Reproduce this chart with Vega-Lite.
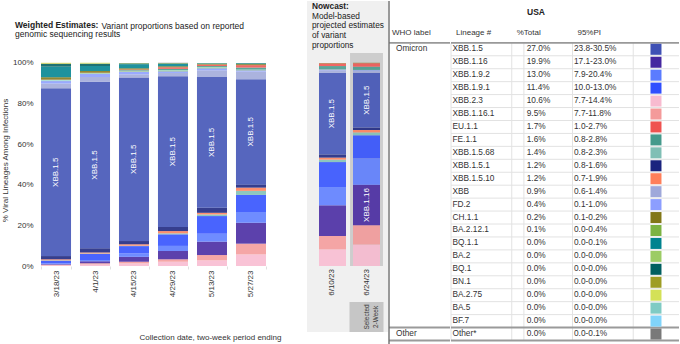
{
  "$schema": "https://vega.github.io/schema/vega-lite/v6.json",
  "padding": {"left": 1, "top": 0, "right": 0, "bottom": 0},
  "background": "white",
  "spacing": 1,
  "bounds": "flush",
  "config": {
    "font": "Liberation Sans",
    "view": {"stroke": null},
    "title": {"font": "Liberation Sans", "subtitleFont": "Liberation Sans"}
  },
  "datasets": {
    "lins": [
      {"lineage": "XBB.1.5", "who": "Omicron", "total": "27.0%", "pi": "23.8-30.5%"},
      {"lineage": "XBB.1.16", "who": "", "total": "19.9%", "pi": "17.1-23.0%"},
      {"lineage": "XBB.1.9.2", "who": "", "total": "13.0%", "pi": "7.9-20.4%"},
      {"lineage": "XBB.1.9.1", "who": "", "total": "11.4%", "pi": "10.0-13.0%"},
      {"lineage": "XBB.2.3", "who": "", "total": "10.6%", "pi": "7.7-14.4%"},
      {"lineage": "XBB.1.16.1", "who": "", "total": "9.5%", "pi": "7.7-11.8%"},
      {"lineage": "EU.1.1", "who": "", "total": "1.7%", "pi": "1.0-2.7%"},
      {"lineage": "FE.1.1", "who": "", "total": "1.6%", "pi": "0.8-2.8%"},
      {"lineage": "XBB.1.5.68", "who": "", "total": "1.4%", "pi": "0.8-2.3%"},
      {"lineage": "XBB.1.5.1", "who": "", "total": "1.2%", "pi": "0.8-1.6%"},
      {"lineage": "XBB.1.5.10", "who": "", "total": "1.2%", "pi": "0.7-1.9%"},
      {"lineage": "XBB", "who": "", "total": "0.9%", "pi": "0.6-1.4%"},
      {"lineage": "FD.2", "who": "", "total": "0.4%", "pi": "0.1-1.0%"},
      {"lineage": "CH.1.1", "who": "", "total": "0.2%", "pi": "0.1-0.2%"},
      {"lineage": "BA.2.12.1", "who": "", "total": "0.1%", "pi": "0.0-0.4%"},
      {"lineage": "BQ.1.1", "who": "", "total": "0.0%", "pi": "0.0-0.1%"},
      {"lineage": "BA.2", "who": "", "total": "0.0%", "pi": "0.0-0.0%"},
      {"lineage": "BQ.1", "who": "", "total": "0.0%", "pi": "0.0-0.0%"},
      {"lineage": "BN.1", "who": "", "total": "0.0%", "pi": "0.0-0.0%"},
      {"lineage": "BA.2.75", "who": "", "total": "0.0%", "pi": "0.0-0.0%"},
      {"lineage": "BA.5", "who": "", "total": "0.0%", "pi": "0.0-0.0%"},
      {"lineage": "BF.7", "who": "", "total": "0.0%", "pi": "0.0-0.0%"},
      {"lineage": "Other*", "who": "Other", "total": "0.0%", "pi": "0.0-0.1%"}
    ],
    "bars": [
      {"date": "3/18/23", "lineage": "XBB.2.3", "share": 0.3, "stk": 0},
      {"date": "3/18/23", "lineage": "XBB.1.16.1", "share": 0.3, "stk": 1},
      {"date": "3/18/23", "lineage": "XBB.1.16", "share": 0.3, "stk": 2},
      {"date": "3/18/23", "lineage": "XBB.1.9.2", "share": 0.4, "stk": 3},
      {"date": "3/18/23", "lineage": "XBB.1.9.1", "share": 1.3, "stk": 4},
      {"date": "3/18/23", "lineage": "XBB.1.5.68", "share": 0.2, "stk": 5},
      {"date": "3/18/23", "lineage": "XBB.1.5.10", "share": 0.5, "stk": 6},
      {"date": "3/18/23", "lineage": "XBB.1.5.1", "share": 1.6, "stk": 7},
      {"date": "3/18/23", "lineage": "XBB.1.5", "share": 82.6, "stk": 8},
      {"date": "3/18/23", "lineage": "XBB", "share": 2.4, "stk": 9},
      {"date": "3/18/23", "lineage": "FD.2", "share": 1.2, "stk": 10},
      {"date": "3/18/23", "lineage": "BA.2.12.1", "share": 0.1, "stk": 11},
      {"date": "3/18/23", "lineage": "BA.2", "share": 0.1, "stk": 12},
      {"date": "3/18/23", "lineage": "BF.7", "share": 0.2, "stk": 13},
      {"date": "3/18/23", "lineage": "BA.5", "share": 0.2, "stk": 14},
      {"date": "3/18/23", "lineage": "EU.1.1", "share": 0.1, "stk": 16},
      {"date": "3/18/23", "lineage": "CH.1.1", "share": 1.2, "stk": 17},
      {"date": "3/18/23", "lineage": "BQ.1.1", "share": 5.2, "stk": 18},
      {"date": "3/18/23", "lineage": "BQ.1", "share": 1.3, "stk": 19},
      {"date": "3/18/23", "lineage": "BN.1", "share": 0.3, "stk": 20},
      {"date": "3/18/23", "lineage": "BA.2.75", "share": 0.3, "stk": 21},

      {"date": "4/1/23", "lineage": "XBB.2.3", "share": 0.7, "stk": 0},
      {"date": "4/1/23", "lineage": "XBB.1.16.1", "share": 0.6, "stk": 1},
      {"date": "4/1/23", "lineage": "XBB.1.16", "share": 1.0, "stk": 2},
      {"date": "4/1/23", "lineage": "XBB.1.9.2", "share": 0.6, "stk": 3},
      {"date": "4/1/23", "lineage": "XBB.1.9.1", "share": 3.0, "stk": 4},
      {"date": "4/1/23", "lineage": "XBB.1.5.68", "share": 0.2, "stk": 5},
      {"date": "4/1/23", "lineage": "XBB.1.5.10", "share": 0.5, "stk": 6},
      {"date": "4/1/23", "lineage": "XBB.1.5.1", "share": 2.1, "stk": 7},
      {"date": "4/1/23", "lineage": "XBB.1.5", "share": 82.1, "stk": 8},
      {"date": "4/1/23", "lineage": "XBB", "share": 2.3, "stk": 9},
      {"date": "4/1/23", "lineage": "FD.2", "share": 1.6, "stk": 10},
      {"date": "4/1/23", "lineage": "BA.2.12.1", "share": 0.1, "stk": 11},
      {"date": "4/1/23", "lineage": "BA.2", "share": 0.1, "stk": 12},
      {"date": "4/1/23", "lineage": "BF.7", "share": 0.1, "stk": 13},
      {"date": "4/1/23", "lineage": "BA.5", "share": 0.1, "stk": 14},
      {"date": "4/1/23", "lineage": "EU.1.1", "share": 0.1, "stk": 16},
      {"date": "4/1/23", "lineage": "CH.1.1", "share": 0.8, "stk": 17},
      {"date": "4/1/23", "lineage": "BQ.1.1", "share": 2.5, "stk": 18},
      {"date": "4/1/23", "lineage": "BQ.1", "share": 1.1, "stk": 19},
      {"date": "4/1/23", "lineage": "BN.1", "share": 0.2, "stk": 20},
      {"date": "4/1/23", "lineage": "BA.2.75", "share": 0.3, "stk": 21},

      {"date": "4/15/23", "lineage": "XBB.2.3", "share": 1.3, "stk": 0},
      {"date": "4/15/23", "lineage": "XBB.1.16.1", "share": 0.8, "stk": 1},
      {"date": "4/15/23", "lineage": "XBB.1.16", "share": 2.4, "stk": 2},
      {"date": "4/15/23", "lineage": "XBB.1.9.2", "share": 1.7, "stk": 3},
      {"date": "4/15/23", "lineage": "XBB.1.9.1", "share": 3.6, "stk": 4},
      {"date": "4/15/23", "lineage": "XBB.1.5.68", "share": 0.2, "stk": 5},
      {"date": "4/15/23", "lineage": "XBB.1.5.10", "share": 0.7, "stk": 6},
      {"date": "4/15/23", "lineage": "XBB.1.5.1", "share": 1.6, "stk": 7},
      {"date": "4/15/23", "lineage": "XBB.1.5", "share": 80.5, "stk": 8},
      {"date": "4/15/23", "lineage": "XBB", "share": 1.6, "stk": 9},
      {"date": "4/15/23", "lineage": "FD.2", "share": 1.3, "stk": 10},
      {"date": "4/15/23", "lineage": "BA.2.12.1", "share": 0.2, "stk": 11},
      {"date": "4/15/23", "lineage": "BA.2", "share": 0.1, "stk": 12},
      {"date": "4/15/23", "lineage": "BF.7", "share": 0.1, "stk": 13},
      {"date": "4/15/23", "lineage": "BA.5", "share": 0.1, "stk": 14},
      {"date": "4/15/23", "lineage": "FE.1.1", "share": 0.3, "stk": 15},
      {"date": "4/15/23", "lineage": "EU.1.1", "share": 0.3, "stk": 16},
      {"date": "4/15/23", "lineage": "CH.1.1", "share": 0.6, "stk": 17},
      {"date": "4/15/23", "lineage": "BQ.1.1", "share": 2.0, "stk": 18},
      {"date": "4/15/23", "lineage": "BQ.1", "share": 0.4, "stk": 19},
      {"date": "4/15/23", "lineage": "BN.1", "share": 0.1, "stk": 20},
      {"date": "4/15/23", "lineage": "BA.2.75", "share": 0.1, "stk": 21},

      {"date": "4/29/23", "lineage": "XBB.2.3", "share": 2.1, "stk": 0},
      {"date": "4/29/23", "lineage": "XBB.1.16.1", "share": 1.2, "stk": 1},
      {"date": "4/29/23", "lineage": "XBB.1.16", "share": 4.1, "stk": 2},
      {"date": "4/29/23", "lineage": "XBB.1.9.2", "share": 2.5, "stk": 3},
      {"date": "4/29/23", "lineage": "XBB.1.9.1", "share": 5.7, "stk": 4},
      {"date": "4/29/23", "lineage": "XBB.1.5.68", "share": 0.5, "stk": 5},
      {"date": "4/29/23", "lineage": "XBB.1.5.10", "share": 1.1, "stk": 6},
      {"date": "4/29/23", "lineage": "XBB.1.5.1", "share": 2.0, "stk": 7},
      {"date": "4/29/23", "lineage": "XBB.1.5", "share": 74.3, "stk": 8},
      {"date": "4/29/23", "lineage": "XBB", "share": 1.6, "stk": 9},
      {"date": "4/29/23", "lineage": "FD.2", "share": 0.8, "stk": 10},
      {"date": "4/29/23", "lineage": "BA.2.12.1", "share": 0.3, "stk": 11},
      {"date": "4/29/23", "lineage": "BA.2", "share": 0.1, "stk": 12},
      {"date": "4/29/23", "lineage": "BF.7", "share": 0.1, "stk": 13},
      {"date": "4/29/23", "lineage": "BA.5", "share": 0.1, "stk": 14},
      {"date": "4/29/23", "lineage": "FE.1.1", "share": 0.6, "stk": 15},
      {"date": "4/29/23", "lineage": "EU.1.1", "share": 0.8, "stk": 16},
      {"date": "4/29/23", "lineage": "CH.1.1", "share": 0.5, "stk": 17},
      {"date": "4/29/23", "lineage": "BQ.1.1", "share": 1.1, "stk": 18},
      {"date": "4/29/23", "lineage": "BQ.1", "share": 0.3, "stk": 19},
      {"date": "4/29/23", "lineage": "BN.1", "share": 0.1, "stk": 20},
      {"date": "4/29/23", "lineage": "BA.2.75", "share": 0.1, "stk": 21},
      {"date": "4/29/23", "lineage": "Other*", "share": 0.1, "stk": 22},

      {"date": "5/13/23", "lineage": "XBB.2.3", "share": 2.8, "stk": 0},
      {"date": "5/13/23", "lineage": "XBB.1.16.1", "share": 2.6, "stk": 1},
      {"date": "5/13/23", "lineage": "XBB.1.16", "share": 6.6, "stk": 2},
      {"date": "5/13/23", "lineage": "XBB.1.9.2", "share": 3.9, "stk": 3},
      {"date": "5/13/23", "lineage": "XBB.1.9.1", "share": 8.7, "stk": 4},
      {"date": "5/13/23", "lineage": "XBB.1.5.68", "share": 0.8, "stk": 5},
      {"date": "5/13/23", "lineage": "XBB.1.5.10", "share": 0.8, "stk": 6},
      {"date": "5/13/23", "lineage": "XBB.1.5.1", "share": 2.5, "stk": 7},
      {"date": "5/13/23", "lineage": "XBB.1.5", "share": 64.4, "stk": 8},
      {"date": "5/13/23", "lineage": "XBB", "share": 3.3, "stk": 9},
      {"date": "5/13/23", "lineage": "FD.2", "share": 1.0, "stk": 10},
      {"date": "5/13/23", "lineage": "BA.2.12.1", "share": 0.3, "stk": 11},
      {"date": "5/13/23", "lineage": "BA.2", "share": 0.1, "stk": 12},
      {"date": "5/13/23", "lineage": "BF.7", "share": 0.1, "stk": 13},
      {"date": "5/13/23", "lineage": "BA.5", "share": 0.1, "stk": 14},
      {"date": "5/13/23", "lineage": "FE.1.1", "share": 0.5, "stk": 15},
      {"date": "5/13/23", "lineage": "EU.1.1", "share": 0.7, "stk": 16},
      {"date": "5/13/23", "lineage": "CH.1.1", "share": 0.3, "stk": 17},
      {"date": "5/13/23", "lineage": "BQ.1.1", "share": 0.3, "stk": 18},
      {"date": "5/13/23", "lineage": "BQ.1", "share": 0.1, "stk": 19},
      {"date": "5/13/23", "lineage": "BN.1", "share": 0.05, "stk": 20},
      {"date": "5/13/23", "lineage": "BA.2.75", "share": 0.05, "stk": 21},

      {"date": "5/27/23", "lineage": "XBB.2.3", "share": 5.7, "stk": 0},
      {"date": "5/27/23", "lineage": "XBB.1.16.1", "share": 5.3, "stk": 1},
      {"date": "5/27/23", "lineage": "XBB.1.16", "share": 10.3, "stk": 2},
      {"date": "5/27/23", "lineage": "XBB.1.9.2", "share": 5.3, "stk": 3},
      {"date": "5/27/23", "lineage": "XBB.1.9.1", "share": 8.4, "stk": 4},
      {"date": "5/27/23", "lineage": "XBB.1.5.68", "share": 2.0, "stk": 5},
      {"date": "5/27/23", "lineage": "XBB.1.5.10", "share": 1.6, "stk": 6},
      {"date": "5/27/23", "lineage": "XBB.1.5.1", "share": 1.6, "stk": 7},
      {"date": "5/27/23", "lineage": "XBB.1.5", "share": 51.8, "stk": 8},
      {"date": "5/27/23", "lineage": "XBB", "share": 3.8, "stk": 9},
      {"date": "5/27/23", "lineage": "FD.2", "share": 0.6, "stk": 10},
      {"date": "5/27/23", "lineage": "BA.2.12.1", "share": 0.2, "stk": 11},
      {"date": "5/27/23", "lineage": "BA.2", "share": 0.05, "stk": 12},
      {"date": "5/27/23", "lineage": "BF.7", "share": 0.05, "stk": 13},
      {"date": "5/27/23", "lineage": "BA.5", "share": 0.05, "stk": 14},
      {"date": "5/27/23", "lineage": "FE.1.1", "share": 1.0, "stk": 15},
      {"date": "5/27/23", "lineage": "EU.1.1", "share": 1.2, "stk": 16},
      {"date": "5/27/23", "lineage": "CH.1.1", "share": 0.5, "stk": 17},
      {"date": "5/27/23", "lineage": "BQ.1.1", "share": 0.4, "stk": 18},
      {"date": "5/27/23", "lineage": "BQ.1", "share": 0.1, "stk": 19},
      {"date": "5/27/23", "lineage": "BN.1", "share": 0.05, "stk": 20},

      {"date": "6/10/23", "lineage": "XBB.2.3", "share": 8.2, "stk": 0},
      {"date": "6/10/23", "lineage": "XBB.1.16.1", "share": 6.6, "stk": 1},
      {"date": "6/10/23", "lineage": "XBB.1.16", "share": 15.1, "stk": 2},
      {"date": "6/10/23", "lineage": "XBB.1.9.2", "share": 9.0, "stk": 3},
      {"date": "6/10/23", "lineage": "XBB.1.9.1", "share": 12.3, "stk": 4},
      {"date": "6/10/23", "lineage": "XBB.1.5.68", "share": 1.2, "stk": 5},
      {"date": "6/10/23", "lineage": "XBB.1.5.10", "share": 1.0, "stk": 6},
      {"date": "6/10/23", "lineage": "XBB.1.5.1", "share": 1.6, "stk": 7},
      {"date": "6/10/23", "lineage": "XBB.1.5", "share": 40.1, "stk": 8},
      {"date": "6/10/23", "lineage": "XBB", "share": 1.3, "stk": 9},
      {"date": "6/10/23", "lineage": "FD.2", "share": 0.4, "stk": 10},
      {"date": "6/10/23", "lineage": "BA.2.12.1", "share": 0.1, "stk": 11},
      {"date": "6/10/23", "lineage": "FE.1.1", "share": 1.6, "stk": 15},
      {"date": "6/10/23", "lineage": "EU.1.1", "share": 1.3, "stk": 16},
      {"date": "6/10/23", "lineage": "CH.1.1", "share": 0.2, "stk": 17},

      {"date": "6/24/23", "lineage": "XBB.2.3", "share": 10.6, "stk": 0},
      {"date": "6/24/23", "lineage": "XBB.1.16.1", "share": 9.5, "stk": 1},
      {"date": "6/24/23", "lineage": "XBB.1.16", "share": 19.9, "stk": 2},
      {"date": "6/24/23", "lineage": "XBB.1.9.2", "share": 13.0, "stk": 3},
      {"date": "6/24/23", "lineage": "XBB.1.9.1", "share": 11.4, "stk": 4},
      {"date": "6/24/23", "lineage": "XBB.1.5.68", "share": 1.4, "stk": 5},
      {"date": "6/24/23", "lineage": "XBB.1.5.10", "share": 1.2, "stk": 6},
      {"date": "6/24/23", "lineage": "XBB.1.5.1", "share": 1.2, "stk": 7},
      {"date": "6/24/23", "lineage": "XBB.1.5", "share": 27.0, "stk": 8},
      {"date": "6/24/23", "lineage": "XBB", "share": 0.9, "stk": 9},
      {"date": "6/24/23", "lineage": "FD.2", "share": 0.4, "stk": 10},
      {"date": "6/24/23", "lineage": "BA.2.12.1", "share": 0.1, "stk": 11},
      {"date": "6/24/23", "lineage": "FE.1.1", "share": 1.6, "stk": 15},
      {"date": "6/24/23", "lineage": "EU.1.1", "share": 1.7, "stk": 16},
      {"date": "6/24/23", "lineage": "CH.1.1", "share": 0.2, "stk": 17}
    ]
  },
  "hconcat": [
    {
      "width": 270,
      "height": 265,
      "title": {
        "text": "Weighted Estimates:",
        "subtitle": "genomic sequencing results",
        "anchor": "start", "frame": "group", "dx": -21, "offset": -37,
        "fontSize": 8.5, "fontWeight": "bold", "color": "#222",
        "subtitleFontSize": 8.5, "subtitleColor": "#222", "subtitlePadding": 0.5
      },
      "resolve": {"axis": {"x": "independent"}},
      "layer": [
        {
          "data": {"name": "bars"},
          "transform": [
            {"filter": {"field": "date", "oneOf": ["3/18/23", "4/1/23", "4/15/23", "4/29/23", "5/13/23", "5/27/23"]}}
          ],
          "mark": {"type": "bar", "fillOpacity": 0.88},
          "encoding": {
            "x": {"field": "date", "type": "nominal", "sort": null,
              "scale": {"domain": ["3/18/23", "4/1/23", "4/15/23", "4/29/23", "5/13/23", "5/27/23"], "paddingInner": 0.23, "paddingOuter": 0.577, "align": 0.111},
              "axis": {"title": "Collection date, two-week period ending", "titleFontSize": 8, "titleFontWeight": "normal", "titleColor": "#333", "titleX": 174, "titleY": 71, "titleBaseline": "middle",
                "labelAngle": 270, "labelAlign": "right", "labelBaseline": "middle", "labelFontSize": 8, "labelColor": "#333", "labelPadding": 1,
                "tickBand": "extent", "tickSize": 3, "tickColor": "#e0e0e0", "domain": false}},
            "y": {"field": "share", "type": "quantitative", "stack": "zero",
              "scale": {"domain": [0, 130.54], "nice": false},
              "axis": {"values": [0, 20, 40, 60, 80, 100], "labelExpr": "datum.value + '%'", "title": "% Viral Lineages Among Infections",
                "titleFontSize": 8, "titleFontWeight": "normal", "titleColor": "#333", "titlePadding": 3, "titleY": 159,
                "labelFontSize": 8, "labelColor": "#333", "labelPadding": 3, "ticks": false, "domain": false, "grid": false}},
            "color": {"field": "lineage", "type": "nominal", "legend": null,
              "scale": {"domain": ["XBB.1.5","XBB.1.16","XBB.1.9.2","XBB.1.9.1","XBB.2.3","XBB.1.16.1","EU.1.1","FE.1.1","XBB.1.5.68","XBB.1.5.1","XBB.1.5.10","XBB","FD.2","CH.1.1","BA.2.12.1","BQ.1.1","BA.2","BQ.1","BN.1","BA.2.75","BA.5","BF.7","Other*"],
                "range": ["#3f51b5","#4527a0","#5b7cff","#304ffe","#f8bbd0","#f49a9a","#ef5350","#459a8c","#80bfb5","#1a237e","#ff7f5a","#9fa8da","#8c9eff","#827717","#7cb342","#00838f","#9ccc65","#005f60","#9e9d24","#d4e157","#80cbc4","#81d4fa","#797979"]}},
            "order": {"field": "stk", "type": "quantitative", "sort": "ascending"}
          }
        },
        {
          "data": {"name": "bars"},
          "transform": [
            {"filter": {"field": "date", "oneOf": ["3/18/23", "4/1/23", "4/15/23", "4/29/23", "5/13/23", "5/27/23"]}},
            {"stack": "share", "groupby": ["date"], "sort": [{"field": "stk", "order": "ascending"}], "as": ["s0", "s1"]},
            {"filter": {"field": "lineage", "equal": "XBB.1.5"}},
            {"fold": ["s0", "s1"], "as": ["edge", "pos"]},
            {"aggregate": [{"op": "mean", "field": "pos", "as": "mid"}], "groupby": ["date", "lineage"]}
          ],
          "mark": {"type": "text", "angle": 270, "color": "white", "fontSize": 8, "align": "center", "baseline": "middle"},
          "encoding": {
            "x": {"field": "date", "type": "nominal", "sort": null,
              "axis": {"orient": "top", "labels": false, "ticks": false, "domain": false, "grid": false,
                "title": "Variant proportions based on reported", "titleX": 65, "titleY": 24, "titleAlign": "left", "titleBaseline": "middle", "titleAngle": 0,
                "titleFontSize": 8.5, "titleFontWeight": "normal", "titleColor": "#222"}},
            "y": {"field": "mid", "type": "quantitative", "scale": {"domain": [0, 130.54], "nice": false},
              "axis": {"values": [0, 20, 40, 60, 80, 100], "labelExpr": "datum.value + '%'", "title": "% Viral Lineages Among Infections",
                "titleFontSize": 8, "titleFontWeight": "normal", "titleColor": "#333", "titlePadding": 3, "titleY": 159,
                "labelFontSize": 8, "labelColor": "#333", "labelPadding": 3, "ticks": false, "domain": false, "grid": false}},
            "text": {"field": "lineage"}
          }
        }
      ]
    },
    {
      "width": 81,
      "height": 331,
      "view": {"fill": "#f0f0f0", "stroke": null},
      "title": {
        "text": "Nowcast:",
        "subtitle": ["Model-based", "projected estimates", "of variant", "proportions"],
        "anchor": "start", "frame": "group", "dx": 5, "offset": -48,
        "fontSize": 8.3, "fontWeight": "bold", "color": "#222",
        "subtitleFontSize": 8.3, "subtitleColor": "#222", "subtitlePadding": 1.4, "subtitleLineHeight": 9.6
      },
      "layer": [
        {
          "data": {"values": [{"date": "6/24/23"}]},
          "mark": {"type": "bar", "color": "#cdcdcd", "width": {"band": 1.22}},
          "encoding": {
            "x": {"field": "date", "type": "nominal", "scale": {"domain": ["6/10/23", "6/24/23"], "paddingInner": 0.206, "paddingOuter": 0.294, "align": 0.6}, "axis": null},
            "y": {"datum": 0, "type": "quantitative", "scale": {"domain": [-32.5, 130.54], "nice": false, "zero": false}, "axis": null},
            "y2": {"datum": 104.9}
          }
        },
        {
          "data": {"values": [{"date": "6/24/23"}]},
          "mark": {"type": "bar", "color": "#c6c6c6", "width": {"band": 1.26}},
          "encoding": {
            "x": {"field": "date", "type": "nominal"},
            "y": {"datum": -17.7, "type": "quantitative"},
            "y2": {"datum": -32.5}
          }
        },
        {
          "data": {"name": "bars"},
          "transform": [
            {"filter": {"field": "date", "oneOf": ["6/10/23", "6/24/23"]}}
          ],
          "mark": {"type": "bar", "fillOpacity": 0.88},
          "encoding": {
            "x": {"field": "date", "type": "nominal", "sort": null},
            "y": {"field": "share", "type": "quantitative", "stack": "zero"},
            "color": {"field": "lineage", "type": "nominal", "legend": null,
              "scale": {"domain": ["XBB.1.5","XBB.1.16","XBB.1.9.2","XBB.1.9.1","XBB.2.3","XBB.1.16.1","EU.1.1","FE.1.1","XBB.1.5.68","XBB.1.5.1","XBB.1.5.10","XBB","FD.2","CH.1.1","BA.2.12.1","BQ.1.1","BA.2","BQ.1","BN.1","BA.2.75","BA.5","BF.7","Other*"],
                "range": ["#3f51b5","#4527a0","#5b7cff","#304ffe","#f8bbd0","#f49a9a","#ef5350","#459a8c","#80bfb5","#1a237e","#ff7f5a","#9fa8da","#8c9eff","#827717","#7cb342","#00838f","#9ccc65","#005f60","#9e9d24","#d4e157","#80cbc4","#81d4fa","#797979"]}},
            "order": {"field": "stk", "type": "quantitative", "sort": "ascending"}
          }
        },
        {
          "data": {"name": "bars"},
          "transform": [
            {"filter": {"field": "date", "oneOf": ["6/10/23", "6/24/23"]}},
            {"stack": "share", "groupby": ["date"], "sort": [{"field": "stk", "order": "ascending"}], "as": ["s0", "s1"]},
            {"filter": "datum.lineage === 'XBB.1.5' || (datum.lineage === 'XBB.1.16' && datum.date === '6/24/23')"},
            {"fold": ["s0", "s1"], "as": ["edge", "pos"]},
            {"aggregate": [{"op": "mean", "field": "pos", "as": "mid"}], "groupby": ["date", "lineage"]}
          ],
          "mark": {"type": "text", "angle": 270, "color": "white", "fontSize": 8, "align": "center", "baseline": "middle"},
          "encoding": {
            "x": {"field": "date", "type": "nominal", "sort": null},
            "y": {"field": "mid", "type": "quantitative"},
            "text": {"field": "lineage"}
          }
        },
        {
          "data": {"values": [{"date": "6/10/23"}, {"date": "6/24/23"}]},
          "mark": {"type": "text", "angle": 270, "color": "#333", "fontSize": 8, "align": "right", "baseline": "middle"},
          "encoding": {
            "x": {"field": "date", "type": "nominal"},
            "y": {"datum": -1.5, "type": "quantitative"},
            "text": {"field": "date"}
          }
        },
        {
          "data": {"values": [{"date": "6/24/23", "label": ["Selected", "2-Week"]}]},
          "mark": {"type": "text", "angle": 270, "color": "#333", "fontSize": 6.5, "lineHeight": 9.5, "align": "center", "baseline": "middle"},
          "encoding": {
            "x": {"field": "date", "type": "nominal"},
            "y": {"datum": -25.1, "type": "quantitative"},
            "text": {"field": "label"}
          }
        }
      ]
    },
    {
      "width": 61,
      "height": 344,
      "layer": [
        {
          "data": {"values": [{"row": "XBB.1.5"}]},
          "mark": {"type": "rule", "color": "#999999", "strokeWidth": 1.6},
          "encoding": {
            "y": {"field": "row", "type": "nominal", "bandPosition": 0,
              "scale": {"type": "band", "domain": ["t1","t2","hdr","XBB.1.5","XBB.1.16","XBB.1.9.2","XBB.1.9.1","XBB.2.3","XBB.1.16.1","EU.1.1","FE.1.1","XBB.1.5.68","XBB.1.5.1","XBB.1.5.10","XBB","FD.2","CH.1.1","BA.2.12.1","BQ.1.1","BA.2","BQ.1","BN.1","BA.2.75","BA.5","BF.7","Other*"], "paddingInner": 0, "paddingOuter": 0.29, "align": 0.4},
              "axis": null}
          }
        },
        {
          "data": {"values": [{"row": "Other*"}]},
          "mark": {"type": "rule", "color": "#9a9a9a", "strokeWidth": 2},
          "encoding": {
            "y": {"field": "row", "type": "nominal", "bandPosition": 0}
          }
        },
        {
          "data": {"values": [{"row": "Other*"}]},
          "mark": {"type": "rule", "color": "#9a9a9a", "strokeWidth": 2},
          "encoding": {
            "y": {"field": "row", "type": "nominal", "bandPosition": 1}
          }
        },
        {
          "data": {"values": [{"col": "WHO"}]},
          "mark": {"type": "rule", "color": "#6e6e6e", "strokeWidth": 1.4},
          "encoding": {
            "x": {"field": "col", "type": "nominal", "bandPosition": 0, "scale": {"type": "band", "domain": ["WHO"], "paddingInner": 0, "paddingOuter": 0}, "axis": null}
          }
        },
        {
          "data": {"values": [{"col": "WHO", "row": "hdr", "label": "WHO label"}]},
          "mark": {"type": "text", "color": "#333", "fontSize": 8, "align": "left", "baseline": "middle", "dx": 3},
          "encoding": {
            "x": {"field": "col", "type": "nominal", "bandPosition": 0},
            "y": {"field": "row", "type": "nominal", "bandPosition": 0.22},
            "text": {"field": "label"}
          }
        },
        {
          "data": {"name": "lins"},
          "transform": [{"filter": "datum.who !== ''"}],
          "mark": {"type": "text", "color": "#333", "fontSize": 8.3, "align": "left", "baseline": "middle", "dx": 7},
          "encoding": {
            "x": {"datum": "WHO", "type": "nominal", "bandPosition": 0},
            "y": {"field": "lineage", "type": "nominal", "bandPosition": 0.5},
            "text": {"field": "who"}
          }
        }
      ]
    },
    {
      "width": 228,
      "height": 344,
      "title": {"text": "USA", "anchor": "middle", "frame": "group", "dx": -29, "offset": -15.5, "fontSize": 8.5, "fontWeight": "bold", "color": "#222"},
      "layer": [
        {
          "data": {"name": "lins"},
          "transform": [{"filter": {"not": {"field": "lineage", "oneOf": ["BF.7", "Other*"]}}}],
          "mark": {"type": "rule", "color": "#e2e2e2", "strokeWidth": 1},
          "encoding": {
            "y": {"field": "lineage", "type": "nominal", "bandPosition": 1,
              "scale": {"type": "band", "domain": ["t1","t2","hdr","XBB.1.5","XBB.1.16","XBB.1.9.2","XBB.1.9.1","XBB.2.3","XBB.1.16.1","EU.1.1","FE.1.1","XBB.1.5.68","XBB.1.5.1","XBB.1.5.10","XBB","FD.2","CH.1.1","BA.2.12.1","BQ.1.1","BA.2","BQ.1","BN.1","BA.2.75","BA.5","BF.7","Other*"], "paddingInner": 0, "paddingOuter": 0.29, "align": 0.4},
              "axis": null}
          }
        },
        {
          "data": {"values": [{"col": "Lineage", "top": "XBB.1.5", "bot": "Other*"}, {"col": "Total", "top": "XBB.1.5", "bot": "Other*"}, {"col": "PI", "top": "XBB.1.5", "bot": "Other*"}]},
          "mark": {"type": "rule", "color": "#e2e2e2", "strokeWidth": 1},
          "encoding": {
            "x": {"field": "col", "type": "nominal", "bandPosition": 0, "scale": {"type": "band", "domain": ["Lineage", "Total", "PI"], "paddingInner": 0, "paddingOuter": 0.377, "align": 0}, "axis": null},
            "y": {"field": "top", "type": "nominal", "bandPosition": 0},
            "y2": {"field": "bot", "bandPosition": 1}
          }
        },
        {
          "data": {"values": [{"col": "Total", "top": "XBB.1.5", "bot": "Other*"}]},
          "mark": {"type": "rule", "color": "#e2e2e2", "strokeWidth": 1},
          "encoding": {
            "x": {"field": "col", "type": "nominal", "bandPosition": 0.2},
            "y": {"field": "top", "type": "nominal", "bandPosition": 0},
            "y2": {"field": "bot", "bandPosition": 1}
          }
        },
        {
          "data": {"values": [{"col": "PI", "top": "XBB.1.5", "bot": "Other*"}]},
          "mark": {"type": "rule", "color": "#e2e2e2", "strokeWidth": 1},
          "encoding": {
            "x": {"field": "col", "type": "nominal", "bandPosition": 1},
            "y": {"field": "top", "type": "nominal", "bandPosition": 0},
            "y2": {"field": "bot", "bandPosition": 1}
          }
        },
        {
          "data": {"values": [{"row": "XBB.1.5"}]},
          "mark": {"type": "rule", "color": "#999999", "strokeWidth": 1.6},
          "encoding": {
            "y": {"field": "row", "type": "nominal", "bandPosition": 0}
          }
        },
        {
          "data": {"values": [{"row": "Other*"}]},
          "mark": {"type": "rule", "color": "#9a9a9a", "strokeWidth": 2},
          "encoding": {
            "y": {"field": "row", "type": "nominal", "bandPosition": 0}
          }
        },
        {
          "data": {"values": [{"row": "Other*"}]},
          "mark": {"type": "rule", "color": "#9a9a9a", "strokeWidth": 2},
          "encoding": {
            "y": {"field": "row", "type": "nominal", "bandPosition": 1}
          }
        },
        {
          "data": {"values": [{"col": "Lineage", "row": "hdr", "label": "Lineage #"}, {"col": "Total", "row": "hdr", "label": "%Total"}, {"col": "PI", "row": "hdr", "label": "95%PI"}]},
          "mark": {"type": "text", "color": "#333", "fontSize": 8, "align": "left", "baseline": "middle", "dx": 5},
          "encoding": {
            "x": {"field": "col", "type": "nominal", "bandPosition": 0},
            "y": {"field": "row", "type": "nominal", "bandPosition": 0.22},
            "text": {"field": "label"}
          }
        },
        {
          "data": {"name": "lins"},
          "mark": {"type": "text", "color": "#333", "fontSize": 8.3, "align": "left", "baseline": "middle", "dx": 1.5},
          "encoding": {
            "x": {"datum": "Lineage", "type": "nominal", "bandPosition": 0},
            "y": {"field": "lineage", "type": "nominal", "bandPosition": 0.5},
            "text": {"field": "lineage"}
          }
        },
        {
          "data": {"name": "lins"},
          "mark": {"type": "text", "color": "#333", "fontSize": 8.3, "align": "left", "baseline": "middle", "dx": 15},
          "encoding": {
            "x": {"datum": "Total", "type": "nominal", "bandPosition": 0},
            "y": {"field": "lineage", "type": "nominal", "bandPosition": 0.5},
            "text": {"field": "total"}
          }
        },
        {
          "data": {"name": "lins"},
          "mark": {"type": "text", "color": "#333", "fontSize": 8.3, "align": "left", "baseline": "middle", "dx": 1.5},
          "encoding": {
            "x": {"datum": "PI", "type": "nominal", "bandPosition": 0},
            "y": {"field": "lineage", "type": "nominal", "bandPosition": 0.5},
            "text": {"field": "pi"}
          }
        },
        {
          "data": {"name": "lins"},
          "mark": {"type": "point", "shape": "square", "filled": true, "opacity": 1, "size": 121, "strokeWidth": 0},
          "encoding": {
            "x": {"datum": "PI", "type": "nominal", "bandPosition": 1.375},
            "y": {"field": "lineage", "type": "nominal", "bandPosition": 0.5},
            "color": {"field": "lineage", "type": "nominal", "legend": null,
              "scale": {"domain": ["XBB.1.5","XBB.1.16","XBB.1.9.2","XBB.1.9.1","XBB.2.3","XBB.1.16.1","EU.1.1","FE.1.1","XBB.1.5.68","XBB.1.5.1","XBB.1.5.10","XBB","FD.2","CH.1.1","BA.2.12.1","BQ.1.1","BA.2","BQ.1","BN.1","BA.2.75","BA.5","BF.7","Other*"],
                "range": ["#3f51b5","#4527a0","#5b7cff","#304ffe","#f8bbd0","#f49a9a","#ef5350","#459a8c","#80bfb5","#1a237e","#ff7f5a","#9fa8da","#8c9eff","#827717","#7cb342","#00838f","#9ccc65","#005f60","#9e9d24","#d4e157","#80cbc4","#81d4fa","#797979"]}}
          }
        }
      ]
    }
  ]
}
